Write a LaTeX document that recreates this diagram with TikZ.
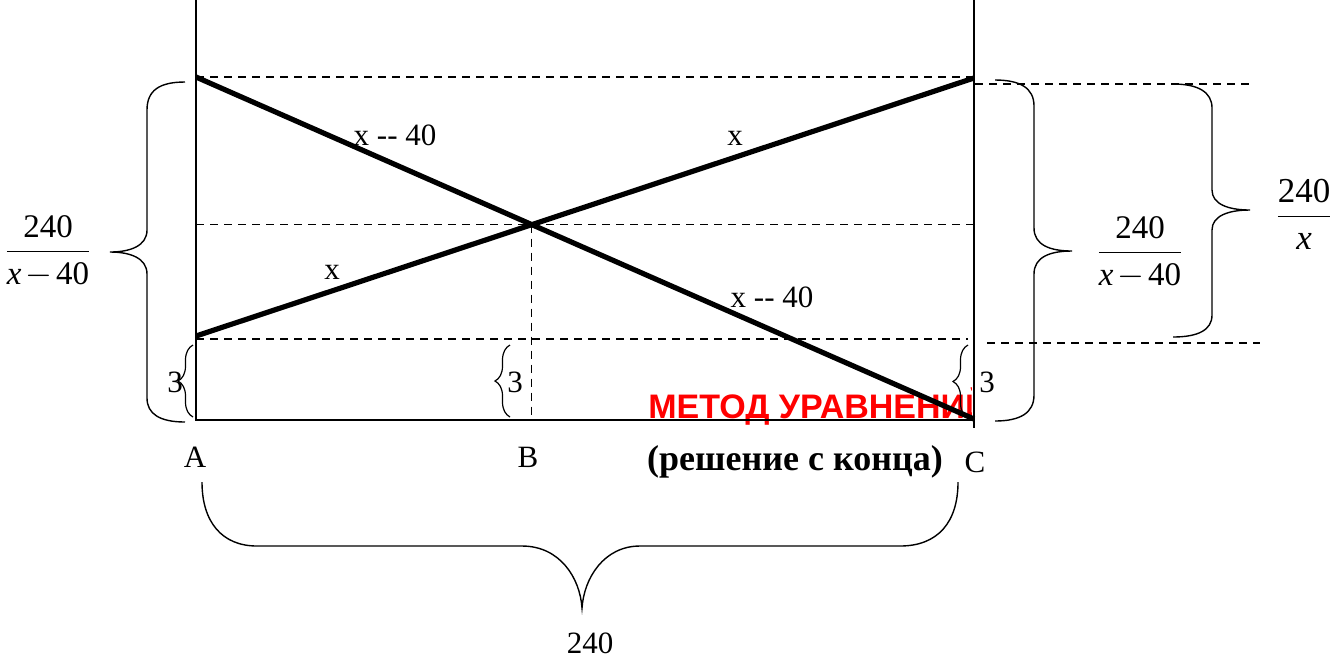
\documentclass[tikz,border=0pt]{standalone}
\usepackage{fontspec}
\setmainfont{Liberation Serif}
\newfontfamily\arialfont{Liberation Sans}
\usetikzlibrary{decorations.pathreplacing,calc}
\tikzset{
  axisline/.style={line width=0.8pt},
  heavyline/.style={line width=2.6pt},
  guide/.style={dash pattern=on 4pt off 3pt, line width=0.6pt},
  smallbrace/.style={decorate,decoration={brace,amplitude=7.5pt},line width=0.6pt},
  bigbrace/.style={line width=0.7pt},
  lbl/.style={inner sep=0pt,font=\fontsize{15.5}{18}\selectfont},
  fraclbl/.style={inner sep=0pt,font=\fontsize{16.5}{19}\selectfont},
}
\newcommand\fracnode[2]{$\displaystyle\frac{\textrm{#1}}{#2}$}
\begin{document}
\begin{tikzpicture}[x=0.5pt,y=-0.5pt]
  \useasboundingbox (0,0) rectangle (1336,655);
  % Define points
  \coordinate (A) at (196,420);
  \coordinate (B) at (527,420);
  \coordinate (C) at (974,420);
  \coordinate (Atop) at (196,0);
  \coordinate (Ctop) at (974,0);
  \coordinate (Cbot) at (974,428);
  \coordinate (P1) at (196,77);
  \coordinate (P2) at (974,419);
  \coordinate (Q1) at (196,336);
  \coordinate (Q2) at (974,78);
  \coordinate (X) at (intersection of P1--P2 and Q1--Q2);
  % Red title, cut at the right edge
  \begin{scope}
    \clip (600,370) rectangle (971,430);
    \node[lbl,anchor=base west,text=red,font=\arialfont\bfseries\fontsize{17}{20}\selectfont] (title) at (648,418) {МЕТОД УРАВНЕНИЙ};
  \end{scope}
  % Dashed guides
  \draw[guide] (P1) -- (P1 -| C);
  \draw[guide] (X -| A) -- (X -| C);
  \draw[guide] (196,339) -- (968,339);
  \draw[guide] (X) -- (X |- B);
  \draw[guide] (975,84) -- (1250,84);
  \draw[guide] (987,343) -- (1260,343);
  % Frame
  \draw[axisline] (Atop) -- (A) -- (C);
  \draw[axisline] (Ctop) -- (Cbot);
  % Paths
  \draw[heavyline] (P1) -- (P2);
  \draw[heavyline] (Q1) -- (Q2);
  \node[lbl] (lab1) at (395,135) {x -{}- 40};
  \node[lbl] (lab2) at (735,138) {x};
  \node[lbl] (lab3) at (332,272) {x};
  \node[lbl] (lab4) at (772,297) {x -{}- 40};
  % Small braces
  \draw[smallbrace] (193,417) -- (193,345);
  \draw[smallbrace] (510,417) -- (510,345);
  \draw[smallbrace] (968,418) -- (968,345);
  \node[lbl] (h1) at (175,382) {3};
  \node[lbl] (h2) at (515,382) {3};
  \node[lbl] (h3) at (987,382) {3};
  % Big braces
  \draw[bigbrace] (185,82) .. controls (160,82) and (147,90) .. (147,110)
    -- (147,230) .. controls (147,246) and (130,252) .. (110,252)
    .. controls (130,252) and (147,258) .. (147,274)
    -- (147,398) .. controls (147,414) and (160,422) .. (185,422);
  \draw[bigbrace] (995,80) .. controls (1020,80) and (1034,88) .. (1034,106)
    -- (1034,228) .. controls (1034,245) and (1050,251) .. (1072,251)
    .. controls (1050,251) and (1034,257) .. (1034,274)
    -- (1034,395) .. controls (1034,413) and (1020,421) .. (995,421);
  \draw[bigbrace] (1173,84) .. controls (1198,84) and (1212,92) .. (1212,108)
    -- (1212,190) .. controls (1212,204) and (1228,210) .. (1250,210)
    .. controls (1228,210) and (1212,216) .. (1212,230)
    -- (1212,315) .. controls (1212,330) and (1198,337) .. (1173,337);
  \draw[bigbrace] (202,482) .. controls (202,522) and (222,546) .. (257,546)
    -- (522,546) .. controls (560,546) and (580,578) .. (582,608)
    .. controls (584,578) and (604,546) .. (640,546)
    -- (900,546) .. controls (938,546) and (958,522) .. (958,482);
  \node[fraclbl] (fl) at (48,251) {\fracnode{240}{\textit{x}\mkern-2mu-\mkern-2mu\textrm{40}}};
  \node[fraclbl] (fr) at (1140,252) {\fracnode{240}{\textit{x}\mkern-2mu-\mkern-2mu\textrm{40}}};
  \node[fraclbl,font=\fontsize{17.5}{20}\selectfont] (fx) at (1304,214) {\fracnode{240}{\textit{x}}};
  \node[lbl] (total) at (590,643) {240};
  % Label the points
  \node[lbl] (la) at (195,457) {A};
  \node[lbl] (lb) at (528,457) {B};
  \node[lbl] (lc) at (975,462) {C};
  \node[lbl,font=\bfseries\fontsize{18}{21}\selectfont] (note) at (795,462) {(решение с конца)};
\end{tikzpicture}
\end{document}
